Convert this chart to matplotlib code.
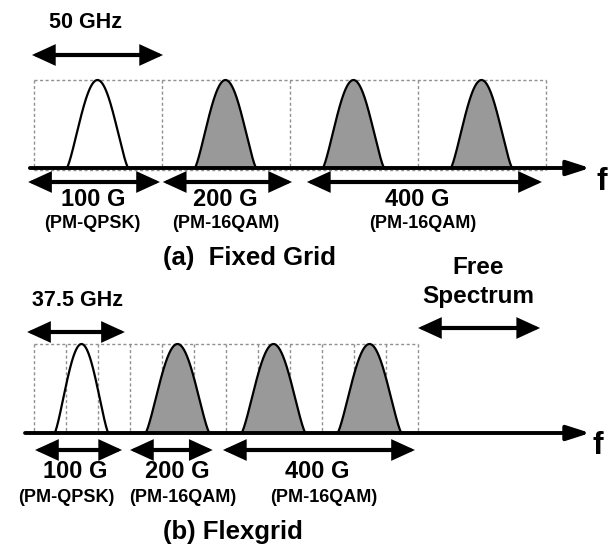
import numpy as np
import matplotlib
matplotlib.use("Agg")
import matplotlib.pyplot as plt
from matplotlib.patches import FancyArrowPatch

plt.rcParams['font.family'] = ['Liberation Sans', 'DejaVu Sans']

# ---- data (frequency in GHz) ----
# (a) fixed grid
grid_a_spacing = 50.0
grid_a_slots = 4
a_carriers = [25.0, 75.0, 125.0, 175.0]
a_widths = [24.0, 24.0, 24.0, 24.0]
a_filled = [False, True, True, True]
a_groups = ["100 G", "200 G", "400 G"]
a_formats = ["(PM-QPSK)", "(PM-16QAM)", "(PM-16QAM)"]
a_spans = [(-2.1, 49.4), (50.5, 101.0), (106.8, 198.6)]
a_label_x = [23.2, 74.8, 150.0]
a_fmt_x = [23.0, 75.0, 152.0]

# (b) flexgrid
slot_b = 12.5
b_slots = 12
b_carriers = [18.75, 56.25, 93.75, 131.25]
b_widths = [21.0, 25.0, 25.0, 25.0]
b_filled = [False, True, True, True]
b_groups = ["100 G", "200 G", "400 G"]
b_formats = ["(PM-QPSK)", "(PM-16QAM)", "(PM-16QAM)"]
b_spans = [(0.6, 34.6), (37.7, 70.0), (74.0, 149.0)]
b_label_x = [16.2, 56.0, 111.0]
b_fmt_x = [13.0, 58.4, 113.5]
free_span = (150.2, 197.9)

# ---- layout ----
W, H = 611, 544
px_per_ghz = 2.56
x0_px = 33.5
fig = plt.figure(figsize=(W / 100, H / 100), dpi=100)
ax = fig.add_axes([0, 0, 1, 1])
ax.set_xlim(-x0_px / px_per_ghz, (W - x0_px) / px_per_ghz)
ax.set_ylim(H, 0)
ax.axis('off')

GRAY = '#999999'
DASH = '#909090'
DLS = (0, (2.2, 1.8))


def darrow(x1, x2, y, lw=3.0):
    p = FancyArrowPatch((x1, y), (x2, y),
                        arrowstyle='<|-|>,head_length=1.2,head_width=0.55',
                        mutation_scale=10, lw=lw, color='black',
                        shrinkA=0, shrinkB=0, joinstyle='miter', zorder=5)
    ax.add_patch(p)


def axis_arrow(x1, x2, y):
    p = FancyArrowPatch((x1, y), (x2, y),
                        arrowstyle='-|>,head_length=1.4,head_width=0.45',
                        mutation_scale=10, lw=2.8, color='black',
                        shrinkA=0, shrinkB=0, zorder=5)
    ax.add_patch(p)


def pulse(c, w, base, top, filled):
    u = np.linspace(-1, 1, 300)
    xs = c + u * w / 2
    ys = base - (base - top) * np.cos(np.pi / 2 * u) ** 1.3
    if filled:
        ax.fill_between(xs, base, ys, color=GRAY, zorder=3, lw=0)
    ax.plot(xs, ys, color='black', lw=1.6, zorder=4)


# ================= (a) =================
a_top, a_base = 80, 168
ax.text(20.5, 23, "50 GHz", ha='center', va='center', fontsize=15.5, fontweight='bold')
darrow(-0.6, 50.6, 55)
for i in range(grid_a_slots + 1):
    x = i * grid_a_spacing
    ax.plot([x, x], [a_top, a_base + 2], ls=DLS, color=DASH, lw=1.0, zorder=1)
ax.plot([0, grid_a_slots * grid_a_spacing], [a_top, a_top], ls=DLS, color=DASH, lw=1.0, zorder=1)
ax.plot([0, grid_a_slots * grid_a_spacing], [a_base + 2, a_base + 2], ls=DLS, color=DASH, lw=1.0, zorder=1)
for c, w, f in zip(a_carriers, a_widths, a_filled):
    pulse(c, w, a_base, a_top, f)
axis_arrow(-1.4, 217.4, a_base)
ax.text(222.0, 182, "f", ha='center', va='center', fontsize=23, fontweight='bold')
for (s1, s2), g, fm, lx, fx in zip(a_spans, a_groups, a_formats, a_label_x, a_fmt_x):
    darrow(s1, s2, 182)
    ax.text(lx, 199, g, ha='center', va='center', fontsize=17, fontweight='bold')
    ax.text(fx, 224, fm, ha='center', va='center', fontsize=13, fontweight='bold')
ax.text(84.5, 258, "(a)  Fixed Grid", ha='center', va='center', fontsize=18.5, fontweight='bold')

# ================= (b) =================
b_top, b_base = 344, 433
ax.text(17.0, 300, "37.5 GHz", ha='center', va='center', fontsize=15.5, fontweight='bold')
darrow(-2.5, 35.7, 332)
for i in range(b_slots + 1):
    x = i * slot_b
    ax.plot([x, x], [b_top, b_base], ls=DLS, color=DASH, lw=1.0, zorder=1)
ax.plot([0, b_slots * slot_b], [b_top, b_top], ls=DLS, color=DASH, lw=1.0, zorder=1)
for c, w, f in zip(b_carriers, b_widths, b_filled):
    pulse(c, w, b_base, b_top, f)
axis_arrow(-3.3, 217.4, b_base)
ax.text(220.5, 446, "f", ha='center', va='center', fontsize=23, fontweight='bold')
for (s1, s2), g, fm, lx, fx in zip(b_spans, b_groups, b_formats, b_label_x, b_fmt_x):
    darrow(s1, s2, 450)
    ax.text(lx, 472, g, ha='center', va='center', fontsize=17, fontweight='bold')
    ax.text(fx, 497, fm, ha='center', va='center', fontsize=13, fontweight='bold')
ax.text(78.0, 532, "(b) Flexgrid", ha='center', va='center', fontsize=18.5, fontweight='bold')

ax.text(173.8, 267, "Free", ha='center', va='center', fontsize=17.5, fontweight='bold')
ax.text(173.8, 297, "Spectrum", ha='center', va='center', fontsize=17.5, fontweight='bold')
darrow(free_span[0], free_span[1], 328)

fig.savefig("out.png", dpi=100)
